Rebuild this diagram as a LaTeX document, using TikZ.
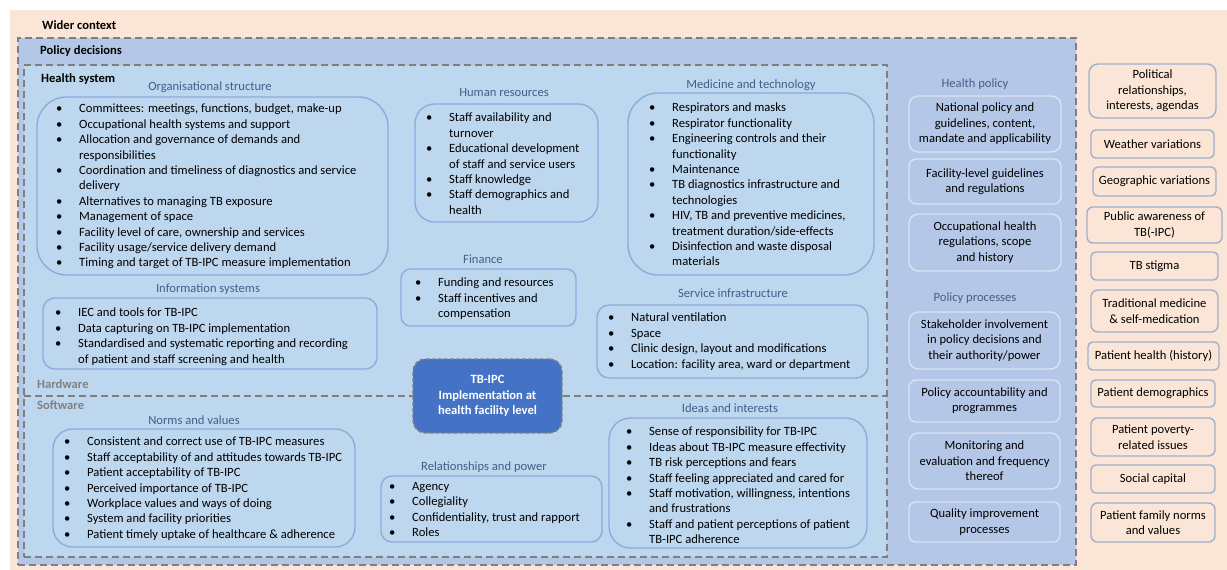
\documentclass[tikz,border=0pt]{standalone}
\usepackage{fontspec}
\setmainfont{Carlito}
\definecolor{peach}{RGB}{251,229,214}
\definecolor{polblue}{RGB}{180,199,231}
\definecolor{hsblue}{RGB}{189,215,238}
\definecolor{tbblue}{RGB}{68,114,196}
\definecolor{bxline}{RGB}{143,170,220}
\definecolor{polline}{RGB}{218,227,243}
\definecolor{wcline}{RGB}{160,176,204}
\definecolor{ttl}{RGB}{68,94,140}
\definecolor{dashgray}{RGB}{127,127,127}
\definecolor{hwgray}{RGB}{128,128,128}
\newcommand\bl{\makebox[23pt][l]{\textbullet}}
\newcommand\ind{\hspace*{23pt}}
\newcommand\mybox[7]{%
  \pgfmathsetmacro\bxw{#5-#3}\pgfmathsetmacro\bxh{#6-#4}%
  \pgfmathsetmacro\bxr{0.1667*min(\bxw,\bxh)}%
  \node[minimum width=\bxw pt, minimum height=\bxh pt, rounded corners=\bxr pt, #1] (#2) at ({(#3+#5)/2},{(#4+#6)/2}) {#7};}
\tikzset{
  every node/.style={font=\fontsize{12.6}{15.4}\selectfont},
  region/.style={draw=dashgray, line width=1.6pt, dash pattern=on 7pt off 4pt, sharp corners, inner sep=0pt},
  hsbox/.style={draw=bxline, line width=1.4pt, fill=hsblue, inner sep=0pt},
  polbox/.style={draw=polline, line width=1.4pt, fill=polblue, align=center, inner sep=0pt},
  wcbox/.style={draw=wcline, line width=1.4pt, fill=peach, align=center, inner sep=0pt},
  tbbox/.style={draw=dashgray, line width=1.4pt, dash pattern=on 4pt off 2pt, fill=tbblue, text=white, align=center, inner sep=0pt, font=\fontsize{12.6}{15.4}\selectfont\bfseries},
  ttlnode/.style={text=ttl, inner sep=0pt},
  lst/.style={align=left, inner sep=0pt, anchor=north west},
  lbl/.style={font=\fontsize{12.6}{15.4}\selectfont\bfseries, anchor=west, inner sep=0pt},
  hwlbl/.style={lbl, text=hwgray},
}
\begin{document}
\begin{tikzpicture}[x=1pt,y=-1pt]
\useasboundingbox (0,0) rectangle (1227,570);
% regions
\mybox{fill=peach, sharp corners, inner sep=0pt}{wider}{10}{10}{1227}{570}{}
\mybox{region, fill=polblue}{policy}{18}{38}{1076}{565}{}
\mybox{region, fill=hsblue}{health}{24}{65}{887}{557}{}
\coordinate (hwL) at (24,396);
\coordinate (hwR) at (887,396);
\draw[region] (hwL) -- (hwR);
% region labels
\node[lbl] (wcL) at (42,25) {Wider context};
\node[lbl] (pdL) at (40,51) {Policy decisions};
\node[lbl] (hsL) at (41,79) {Health system};
\node[hwlbl] (hwLb) at (37,384) {Hardware};
\node[hwlbl] (swLb) at (37,405) {Software};
% Organisational structure
\node[ttlnode] (orgH) at (210,87) {Organisational structure};
\mybox{hsbox}{org}{37}{97}{388}{275}{}
\node[lst] (orgT) at (56,104) {\bl Committees: meetings, functions, budget, make-up\\
\bl Occupational health systems and support\\
\bl Allocation and governance of demands and\\
\ind responsibilities\\
\bl Coordination and timeliness of diagnostics and service\\
\ind delivery\\
\bl Alternatives to managing TB exposure\\
\bl Management of space\\
\bl Facility level of care, ownership and services\\
\bl Facility usage/service delivery demand\\
\bl Timing and target of TB-IPC measure implementation};
% Human resources
\node[ttlnode] (hrH) at (504,93) {Human resources};
\mybox{hsbox}{hr}{415}{104}{598}{222}{}
\node[lst] (hrT) at (426,113) {\bl Staff availability and\\
\ind turnover\\
\bl Educational development\\
\ind of staff and service users\\
\bl Staff knowledge\\
\bl Staff demographics and\\
\ind health};
% Finance
\node[ttlnode] (finH) at (483,259) {Finance};
\mybox{hsbox}{fin}{401}{269}{576}{326}{}
\node[lst] (finT) at (415,278) {\bl Funding and resources\\
\bl Staff incentives and\\
\ind compensation};
% Medicine and technology
\node[ttlnode] (medH) at (751,85) {Medicine and technology};
\mybox{hsbox}{med}{628}{93}{874}{275}{}
\node[lst] (medT) at (649,103) {\bl Respirators and masks\\
\bl Respirator functionality\\
\bl Engineering controls and their\\
\ind functionality\\
\bl Maintenance\\
\bl TB diagnostics infrastructure and\\
\ind technologies\\
\bl HIV, TB and preventive medicines,\\
\ind treatment duration/side-effects\\
\bl Disinfection and waste disposal\\
\ind materials};
% Service infrastructure
\node[ttlnode] (srvH) at (733,293) {Service infrastructure};
\mybox{hsbox}{srv}{597}{305}{868}{378}{}
\node[lst] (srvT) at (608,313) {\bl Natural ventilation\\
\bl Space\\
\bl Clinic design, layout and modifications\\
\bl Location: facility area, ward or department};
% Information systems
\node[ttlnode] (infH) at (208,289) {Information systems};
\mybox{hsbox}{inf}{43}{298}{377}{369}{}
\node[lst] (infT) at (55,308) {\bl IEC and tools for TB-IPC\\
\bl Data capturing on TB-IPC implementation\\
\bl Standardised and systematic reporting and recording\\
\ind of patient and staff screening and health};
% Norms and values
\node[ttlnode] (nrmH) at (194,420) {Norms and values};
\mybox{hsbox}{nrm}{53}{429}{355}{547}{}
\node[lst] (nrmT) at (64,437) {\bl Consistent and correct use of TB-IPC measures\\
\bl Staff acceptability of and attitudes towards TB-IPC\\
\bl Patient acceptability of TB-IPC\\
\bl Perceived importance of TB-IPC\\
\bl Workplace values and ways of doing\\
\bl System and facility priorities\\
\bl Patient timely uptake of healthcare \& adherence};
% Relationships and power
\node[ttlnode] (relH) at (484,467) {Relationships and power};
\mybox{hsbox}{rel}{381}{476}{602}{542}{}
\node[lst] (relT) at (389,482) {\bl Agency\\
\bl Collegiality\\
\bl Confidentiality, trust and rapport\\
\bl Roles};
% Ideas and interests
\node[ttlnode] (idH) at (730,408) {Ideas and interests};
\mybox{hsbox}{ide}{609}{418}{867}{548}{}
\node[lst] (idT) at (626,427) {\bl Sense of responsibility for TB-IPC\\
\bl Ideas about TB-IPC measure effectivity\\
\bl TB risk perceptions and fears\\
\bl Staff feeling appreciated and cared for\\
\bl Staff motivation, willingness, intentions\\
\ind and frustrations\\
\bl Staff and patient perceptions of patient\\
\ind TB-IPC adherence};
% TB-IPC centre
\mybox{tbbox}{tb}{413}{359}{562}{433}{TB-IPC\\Implementation at\\health facility level}
% Health policy column
\node[ttlnode] (hpH) at (975,84) {Health policy};
\mybox{polbox}{hp1}{909}{96}{1061}{152}{National policy and\\guidelines, content,\\mandate and applicability}
\mybox{polbox}{hp2}{909}{159}{1061}{204}{Facility-level guidelines\\and regulations}
\mybox{polbox}{hp3}{909}{214}{1061}{271}{Occupational health\\regulations, scope\\and history}
\node[ttlnode] (ppH) at (975,298) {Policy processes};
\mybox{polbox}{pp1}{909}{312}{1060}{369}{Stakeholder involvement\\in policy decisions and\\their authority/power}
\mybox{polbox}{pp2}{909}{380}{1060}{422}{Policy accountability and\\programmes}
\mybox{polbox}{pp3}{909}{433}{1060}{489}{Monitoring and\\evaluation and frequency\\thereof}
\mybox{polbox}{pp4}{909}{502}{1060}{542}{Quality improvement\\processes}
% Wider context column
\mybox{wcbox}{wc1}{1089}{64}{1216}{118}{Political\\relationships,\\interests, agendas}
\mybox{wcbox}{wc2}{1091}{130}{1214}{158}{Weather variations}
\mybox{wcbox}{wc3}{1093}{167}{1216}{196}{Geographic variations}
\mybox{wcbox}{wc4}{1087}{207}{1222}{243}{Public awareness of\\TB(-IPC)}
\mybox{wcbox}{wc5}{1091}{252}{1218}{280}{TB stigma}
\mybox{wcbox}{wc6}{1091}{290}{1218}{332}{Traditional medicine\\\& self-medication}
\mybox{wcbox}{wc7}{1088}{342}{1219}{370}{Patient health (history)}
\mybox{wcbox}{wc8}{1091}{380}{1215}{407}{Patient demographics}
\mybox{wcbox}{wc9}{1091}{418}{1215}{456}{Patient poverty-\\related issues}
\mybox{wcbox}{wc10}{1091}{465}{1215}{493}{Social capital}
\mybox{wcbox}{wc11}{1091}{503}{1215}{542}{Patient family norms\\and values}
\end{tikzpicture}
\end{document}
